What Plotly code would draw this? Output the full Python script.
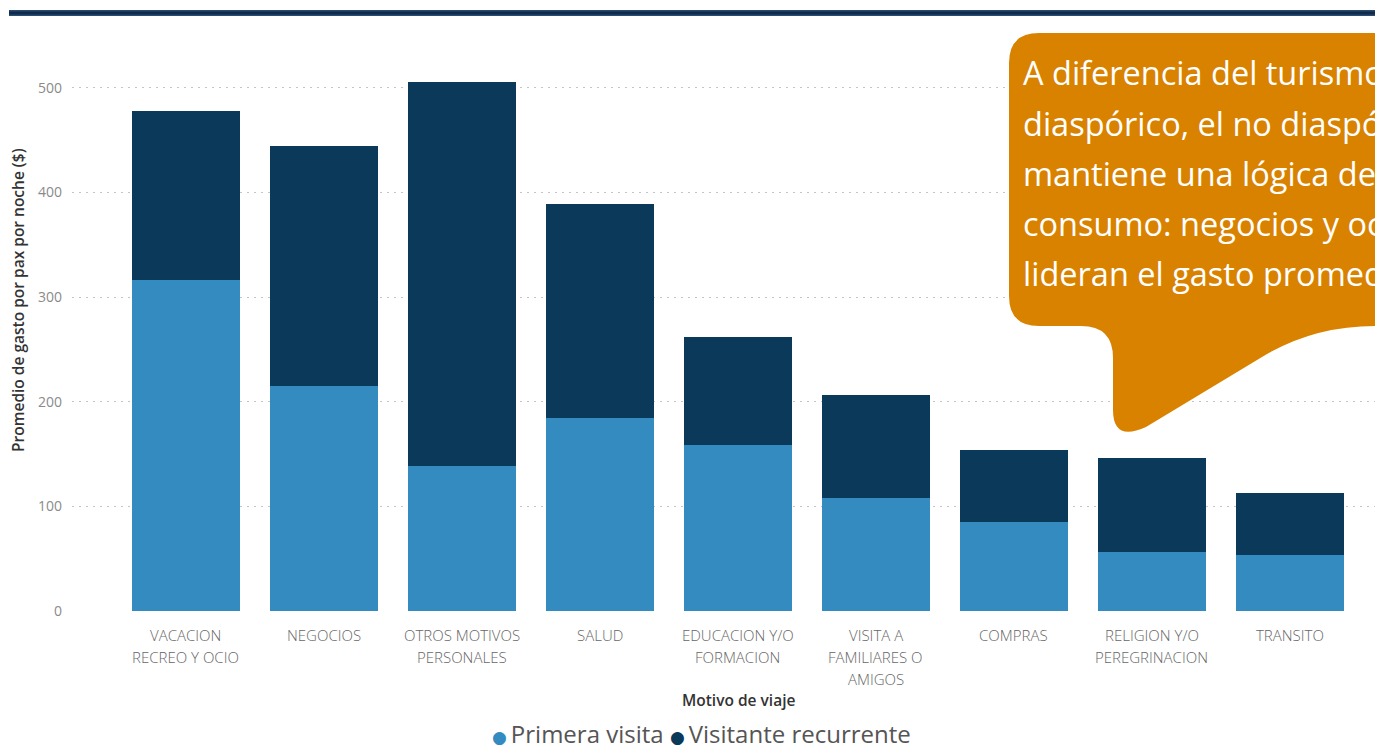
import plotly.graph_objects as go

categories = ["VACACION RECREO Y OCIO", "NEGOCIOS", "OTROS MOTIVOS PERSONALES", "SALUD",
              "EDUCACION Y/O FORMACION", "VISITA A FAMILIARES O AMIGOS", "COMPRAS",
              "RELIGION Y/O PEREGRINACION", "TRANSITO"]
tick_labels = [["VACACION", "RECREO Y OCIO"], ["NEGOCIOS"], ["OTROS MOTIVOS", "PERSONALES"], ["SALUD"],
               ["EDUCACION Y/O", "FORMACION"], ["VISITA A", "FAMILIARES O", "AMIGOS"], ["COMPRAS"],
               ["RELIGION Y/O", "PEREGRINACION"], ["TRANSITO"]]
primera_visita = [316.5, 215, 139, 184, 158.5, 108, 85.5, 56.5, 53.7]
visitante_recurrente = [161.5, 229, 367, 205, 103, 98.8, 68.7, 89.8, 58.8]
y_ticks = [0, 100, 200, 300, 400, 500]

callout_lines = ["A diferencia del turismo", "diaspórico, el no diaspórico",
                 "mantiene una lógica de", "consumo: negocios y ocio",
                 "lideran el gasto promedio."]

C_LIGHT = "#338BC0"
C_DARK = "#0B3959"
C_ORANGE = "#D98200"

W, H = 1375, 749
L, R, T, B = 72, 0, 70, 138
PW, PH = W - L - R, H - T - B


def px(x):
    return (x - L) / PW


def py(y):
    return (H - B - y) / PH


fig = go.Figure()
fig.add_trace(go.Bar(x=categories, y=primera_visita, name="Primera visita",
                     marker=dict(color=C_LIGHT, line=dict(width=0))))
fig.add_trace(go.Bar(x=categories, y=visitante_recurrente, name="Visitante recurrente",
                     marker=dict(color=C_DARK, line=dict(width=0))))

annotations = []
# x tick labels
for i, lines in enumerate(tick_labels):
    for j, line in enumerate(lines):
        annotations.append(dict(x=categories[i], xref="x", y=py(635 + 22 * j), yref="paper",
                                text=line, showarrow=False, xanchor="center", yanchor="middle",
                                font=dict(family="Open Sans", size=15, color="#666666", weight=300)))
# axis titles
annotations.append(dict(x=px(738), y=py(700), xref="paper", yref="paper", text="Motivo de viaje",
                        showarrow=False, xanchor="center", yanchor="middle",
                        font=dict(family="Open Sans", size=15.5, color="#333333", weight=600)))
annotations.append(dict(x=px(18), y=py(300), xref="paper", yref="paper",
                        text="Promedio de gasto por pax por noche ($)", textangle=-90,
                        showarrow=False, xanchor="center", yanchor="middle",
                        font=dict(family="Open Sans", size=15.5, color="#333333", weight=600)))
# legend
bullet = "<span style='color:{};font-family:DejaVu Sans;font-size:17px'>●</span>\u2009"
annotations.append(dict(x=px(701), y=py(733), xref="paper", yref="paper",
                        text=bullet.format(C_LIGHT) + "Primera visita "
                             + bullet.format(C_DARK) + "Visitante recurrente",
                        showarrow=False, xanchor="center", yanchor="middle",
                        font=dict(family="Open Sans", size=24, color="#555555")))
# callout text
for k, line in enumerate(callout_lines):
    annotations.append(dict(x=px(1021), y=py(73 + 50 * k), xref="paper", yref="paper", text=line,
                            showarrow=False, xanchor="left", yanchor="middle",
                            font=dict(family="Open Sans", size=32.5, color="white")))

path = ("M {} {} L {} {} L {} {} L {} {} Q {} {} {} {} L {} {} Q {} {} {} {} L {} {} "
        "Q {} {} {} {} L {} {} Q {} {} {} {} L {} {} Q {} {} {} {} Z")
coords = [(1039, 33), (1400, 33), (1400, 326), (1375, 326), (1313, 326), (1262, 357),
          (1146, 427), (1113, 442), (1113, 410), (1113, 358), (1113, 326), (1081, 326),
          (1039, 326), (1009, 326), (1009, 296), (1009, 63), (1009, 33), (1039, 33)]
vals = []
for (x, y) in coords:
    vals += [f"{px(x):.5f}", f"{py(y):.5f}"]
callout_path = path.format(*vals)

shapes = [
    dict(type="path", path=callout_path, xref="paper", yref="paper",
         fillcolor=C_ORANGE, line=dict(width=0), layer="above"),
    dict(type="rect", x0=px(9), x1=px(1400), y0=py(10), y1=py(16), xref="paper", yref="paper",
         fillcolor="#2A4A70", line=dict(width=0), layer="above"),
    dict(type="rect", x0=px(9), x1=px(1400), y0=py(11.5), y1=py(14.5), xref="paper", yref="paper",
         fillcolor="#0F2A4A", line=dict(width=0), layer="above"),
]

fig.update_layout(
    barmode="stack",
    bargap=0.217,
    width=W, height=H,
    margin=dict(l=L, r=R, t=T, b=B, pad=0),
    paper_bgcolor="white", plot_bgcolor="white",
    showlegend=False,
    annotations=annotations,
    shapes=shapes,
    xaxis=dict(range=[-0.826, 8.616], showticklabels=False, showgrid=False, zeroline=False,
               showline=False, ticks=""),
    yaxis=dict(range=[0, 517], tickvals=y_ticks, ticktext=[str(v) for v in y_ticks],
               showgrid=True, gridcolor="#c4c4c4", griddash="2px,5px", gridwidth=1,
               zeroline=False, showline=False, ticks="", ticklabelstandoff=9,
               tickfont=dict(family="Open Sans", size=14, color="#8a8a8a")),
)

fig.write_html("out.html", config={"displayModeBar": False},
               post_script="document.body.style.margin='0';document.body.style.overflow='hidden';")
